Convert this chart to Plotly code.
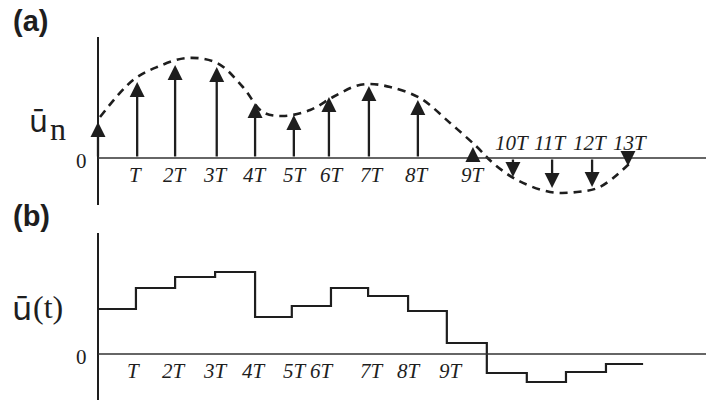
import plotly.graph_objects as go

# ---------------- data ----------------
# panel (a): sample arrows (time in units of T, value in arbitrary units)
arrow_t = [0, 0.96, 1.89, 2.91, 3.85, 4.80, 5.66, 6.64, 7.84, 9.19, 10.17, 11.13, 12.11, 12.99]
arrow_v = [36, 76, 93, 91, 55, 43, 61, 72, 58, 11, -19, -30, -29, -8]
# dashed envelope curve
curve_t = [0.05, 0.86, 1.45, 2.18, 2.92, 3.55, 4.04, 4.53, 5.20, 5.76, 6.32, 6.67,
           7.16, 7.89, 8.63, 9.29, 9.68, 10.27, 11.08, 11.74, 12.30, 13.04]
curve_v = [41, 78, 91, 100, 95, 71, 46, 42, 48, 61, 72, 74,
           71, 60, 35, 11, -5, -22, -34, -34, -29, -5]
labels_a = ["T", "2T", "3T", "4T", "5T", "6T", "7T", "8T", "9T", "10T", "11T", "12T", "13T"]
labels_a_t = [0.93, 1.89, 2.89, 3.85, 4.83, 5.74, 6.72, 7.82, 9.19, 10.15, 11.08, 12.06, 13.04]
labels_a_above = [False] * 9 + [True] * 4

# panel (b): staircase
step_t = [0, 0.93, 1.89, 2.87, 3.85, 4.75, 5.71, 6.62, 7.60, 8.55, 9.53, 10.51, 11.47, 12.45, 13.36]
step_v = [45, 66, 77, 82, 37, 48, 66, 58, 43, 11, -19, -28, -18, -10]
labels_b = ["T", "2T", "3T", "4T", "5T", "6T", "7T", "8T", "9T"]
labels_b_t = [0.88, 1.86, 2.87, 3.82, 4.83, 5.50, 6.72, 7.62, 8.65]

INK = "#1e1e1e"
XR = [-98 / 40.8, (706 - 98) / 40.8]

fig = go.Figure()

# dashed curve (a)
fig.add_trace(go.Scatter(x=curve_t, y=curve_v, mode="lines", xaxis="x", yaxis="y",
                         line=dict(color=INK, width=2.6, dash="8px,6px", shape="spline", smoothing=1.0),
                         hoverinfo="skip", showlegend=False))

# staircase (b)
fig.add_trace(go.Scatter(x=step_t, y=step_v + [step_v[-1]], mode="lines", xaxis="x2", yaxis="y2",
                         line=dict(color=INK, width=2.2, shape="hv"),
                         hoverinfo="skip", showlegend=False))

annotations = []
# arrows (a)
for t, v in zip(arrow_t, arrow_v):
    annotations.append(dict(x=t, y=v, ax=t, ay=0, xref="x", yref="y", axref="x", ayref="y",
                            text="", showarrow=True, arrowhead=2, arrowsize=1.3,
                            arrowwidth=2.3, arrowcolor=INK, standoff=0, startstandoff=0))

tick_font = dict(family="Liberation Serif", size=21, color=INK)
for lab, t, above in zip(labels_a, labels_a_t, labels_a_above):
    annotations.append(dict(x=t, y=15 if above else -17, xref="x", yref="y",
                            xanchor="center", yanchor="middle",
                            text="<i>%s</i>" % lab, showarrow=False, font=tick_font))
for lab, t in zip(labels_b, labels_b_t):
    annotations.append(dict(x=t, y=-17, xref="x2", yref="y2", xanchor="center", yanchor="middle",
                            text="<i>%s</i>" % lab, showarrow=False, font=tick_font))

# zero labels
for xr, yr in (("x", "y"), ("x2", "y2")):
    annotations.append(dict(x=-0.4, y=-3, xref=xr, yref=yr, text="0", showarrow=False,
                            xanchor="center", yanchor="middle",
                            font=dict(family="Liberation Serif", size=21, color=INK)))

# axis titles and panel letters, positioned in pixels of the page
pix_texts = [
    (38, 121, "ū", "DejaVu Sans", 30),
    (58, 129, "n", "Liberation Serif", 32),
    (22, 309, "ū", "DejaVu Sans", 32),
    (48, 307, "(t)", "Liberation Serif", 32),
    (30, 21, "<b>(a)</b>", "Liberation Sans", 29),
    (31, 216, "<b>(b)</b>", "Liberation Sans", 29),
]
for px, py, txt, fam, sz in pix_texts:
    annotations.append(dict(x=px / 706, y=1 - py / 402, xref="paper", yref="paper",
                            xanchor="center", yanchor="middle", text=txt, showarrow=False,
                            font=dict(family=fam, size=sz, color=INK)))

shapes = [
    # axes (a)
    dict(type="line", xref="x", yref="paper", x0=0, x1=0, y0=1 - 37 / 402, y1=1 - 205 / 402,
         line=dict(color=INK, width=2)),
    dict(type="line", xref="x", yref="y", x0=0, x1=XR[1], y0=0, y1=0,
         line=dict(color="#333333", width=1.6)),
    # axes (b)
    dict(type="line", xref="x2", yref="paper", x0=0, x1=0, y0=1 - 233 / 402, y1=1 - 400 / 402,
         line=dict(color=INK, width=2)),
    dict(type="line", xref="x2", yref="y2", x0=0, x1=XR[1], y0=0, y1=0,
         line=dict(color="#333333", width=1.6)),
]

ax_common = dict(showgrid=False, zeroline=False, showticklabels=False, showline=False, ticks="")
fig.update_layout(
    width=706, height=402,
    margin=dict(l=0, r=0, t=0, b=0),
    paper_bgcolor="white", plot_bgcolor="white",
    xaxis=dict(domain=[0, 1], range=XR, anchor="y", **ax_common),
    yaxis=dict(domain=[1 - 200 / 402, 1], range=[-42, 158], anchor="x", **ax_common),
    xaxis2=dict(domain=[0, 1], range=XR, anchor="y2", **ax_common),
    yaxis2=dict(domain=[0, 1 - 200 / 402], range=[-48, 154], anchor="x2", **ax_common),
    annotations=annotations,
    shapes=shapes,
    showlegend=False,
)

fig.write_html("out.html", config={"displayModeBar": False},
               post_script="document.body.style.margin='0';document.body.style.overflow='hidden';")
